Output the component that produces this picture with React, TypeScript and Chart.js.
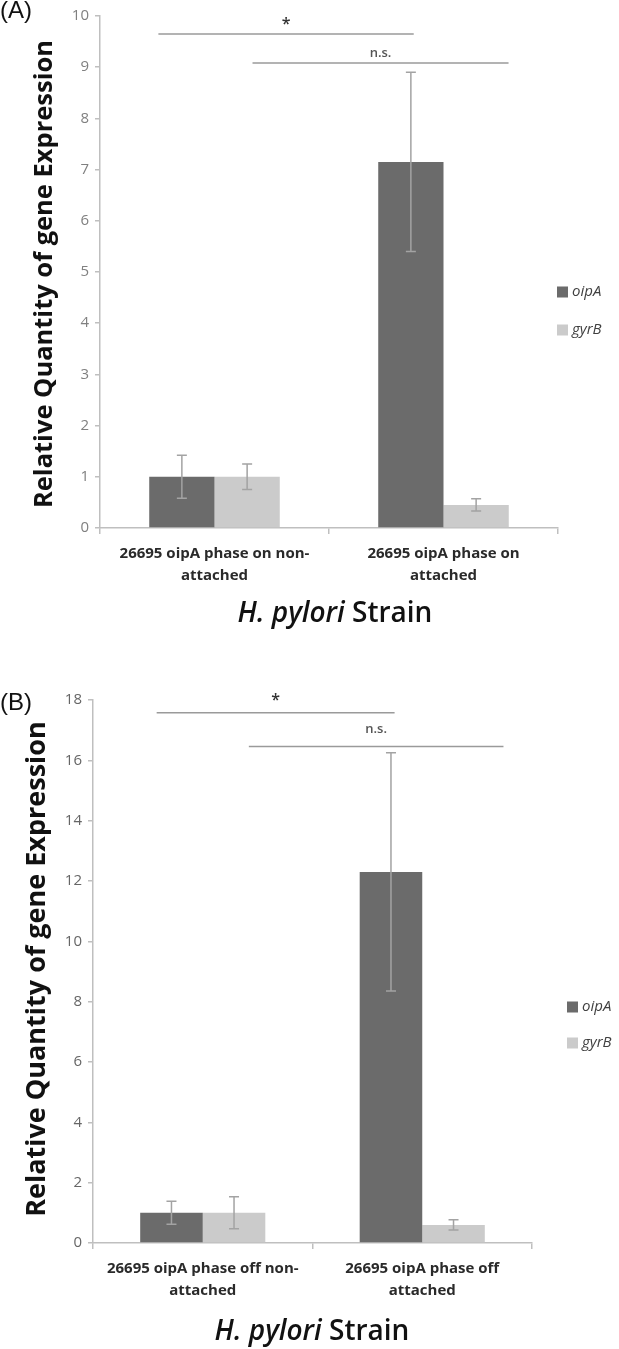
import React, { useEffect, useRef } from "react";
import { Chart, registerables } from "chart.js";

Chart.register(...registerables);

// ---------- data ----------
const seriesNames = ["oipA", "gyrB"];

const categoriesA = [
  ["26695 oipA phase on non-", "attached"],
  ["26695 oipA phase on", "attached"],
];
const oipAValuesA = [1.0, 7.15];
const gyrBValuesA = [1.0, 0.45];
const oipAErrorsA = [0.42, 1.75];
const gyrBErrorsA = [0.25, 0.12];
const yMaxA = 10;
const yStepA = 1;
const sigLabelsA = ["*", "n.s."];
const sigFromA = [-0.245, 0.166];
const sigToA = [0.87, 1.284];
const sigLineYA = [9.65, 9.08];
const sigTextYA = [9.84, 9.28];

const categoriesB = [
  ["26695 oipA phase off non-", "attached"],
  ["26695 oipA phase off", "attached"],
];
const oipAValuesB = [1.0, 12.3];
const gyrBValuesB = [1.0, 0.6];
const oipAErrorsB = [0.38, 3.95];
const gyrBErrorsB = [0.53, 0.17];
const yMaxB = 18;
const yStepB = 2;
const sigLabelsB = ["*", "n.s."];
const sigFromB = [-0.21, 0.21];
const sigToB = [0.874, 1.37];
const sigLineYB = [17.58, 16.46];
const sigTextYB = [17.98, 17.02];

const yTitle = "Relative Quantity of gene Expression";
const xTitleItalic = "H. pylori";
const xTitleRest = " Strain";

// ---------- styles ----------
const FONT = "'Open Sans', 'DejaVu Sans', sans-serif";
const barColors = ["#6b6b6b", "#cbcbcb"];

type PanelCfg = {
  top: number;
  width: number;
  height: number;
  area: { left: number; right: number; top: number; bottom: number };
  categories: string[][];
  values: number[][];
  errors: number[][];
  yMax: number;
  yStep: number;
  sigLabels: string[];
  sigFrom: number[];
  sigTo: number[];
  sigLineY: number[];
  sigTextY: number[];
  yTitleSize: number;
  yTitleX: number;
  yTitleY: number;
  xTitleX: number;
  xTitleY: number;
  legendX: number;
  legendY: number[];
  tickColor: string;
};

const panelA: PanelCfg = {
  top: 0,
  width: 619,
  height: 640,
  area: { left: 100, right: 558, top: 16, bottom: 528 },
  categories: categoriesA,
  values: [oipAValuesA, gyrBValuesA],
  errors: [oipAErrorsA, gyrBErrorsA],
  yMax: yMaxA,
  yStep: yStepA,
  sigLabels: sigLabelsA,
  sigFrom: sigFromA,
  sigTo: sigToA,
  sigLineY: sigLineYA,
  sigTextY: sigTextYA,
  yTitleSize: 25.5,
  yTitleX: 45,
  yTitleY: 274,
  xTitleX: 335,
  xTitleY: 614,
  legendX: 557,
  legendY: [292, 330],
  tickColor: "#808080",
};

const panelB: PanelCfg = {
  top: 640,
  width: 619,
  height: 709,
  area: { left: 93, right: 532, top: 60, bottom: 603 },
  categories: categoriesB,
  values: [oipAValuesB, gyrBValuesB],
  errors: [oipAErrorsB, gyrBErrorsB],
  yMax: yMaxB,
  yStep: yStepB,
  sigLabels: sigLabelsB,
  sigFrom: sigFromB,
  sigTo: sigToB,
  sigLineY: sigLineYB,
  sigTextY: sigTextYB,
  yTitleSize: 27,
  yTitleX: 37,
  yTitleY: 329,
  xTitleX: 312,
  xTitleY: 692,
  legendX: 567,
  legendY: [367, 403],
  tickColor: "#666666",
};

function makeOverlay(cfg: PanelCfg) {
  return {
    id: "overlay",
    afterDatasetsDraw(chart: any) {
      const ctx: CanvasRenderingContext2D = chart.ctx;
      const xs = chart.scales.x;
      const ys = chart.scales.y;
      ctx.save();
      // error bars
      ctx.strokeStyle = "#a3a3a3";
      ctx.lineWidth = 1.5;
      cfg.values.forEach((vals, d) => {
        const meta = chart.getDatasetMeta(d);
        vals.forEach((v, i) => {
          const bar = meta.data[i];
          const e = cfg.errors[d][i];
          const x = bar.x;
          const yt = ys.getPixelForValue(v + e);
          const yb = ys.getPixelForValue(v - e);
          ctx.beginPath();
          ctx.moveTo(x, yt);
          ctx.lineTo(x, yb);
          ctx.moveTo(x - 5, yt);
          ctx.lineTo(x + 5, yt);
          ctx.moveTo(x - 5, yb);
          ctx.lineTo(x + 5, yb);
          ctx.stroke();
        });
      });
      // significance lines
      cfg.sigLabels.forEach((lab, k) => {
        const x0 = xs.getPixelForValue(cfg.sigFrom[k]);
        const x1 = xs.getPixelForValue(cfg.sigTo[k]);
        const y = ys.getPixelForValue(cfg.sigLineY[k]);
        ctx.strokeStyle = "#9a9a9a";
        ctx.lineWidth = 1.5;
        ctx.beginPath();
        ctx.moveTo(x0, y);
        ctx.lineTo(x1, y);
        ctx.stroke();
        const ty = ys.getPixelForValue(cfg.sigTextY[k]);
        ctx.textAlign = "center";
        ctx.textBaseline = "middle";
        if (lab === "*") {
          ctx.fillStyle = "#333333";
          ctx.font = `600 16px ${FONT}`;
        } else {
          ctx.fillStyle = "#555555";
          ctx.font = `600 13px ${FONT}`;
        }
        ctx.fillText(lab, (x0 + x1) / 2, ty);
      });
      ctx.restore();
    },
    afterDraw(chart: any) {
      const ctx: CanvasRenderingContext2D = chart.ctx;
      ctx.save();
      // y title
      ctx.translate(cfg.yTitleX, cfg.yTitleY);
      ctx.rotate(-Math.PI / 2);
      ctx.fillStyle = "#111111";
      ctx.font = `bold ${cfg.yTitleSize}px ${FONT}`;
      ctx.textAlign = "center";
      ctx.textBaseline = "middle";
      ctx.fillText(yTitle, 0, 0);
      ctx.setTransform(1, 0, 0, 1, 0, 0);
      // x title (mixed style)
      const fi = `italic 600 28px ${FONT}`;
      const fr = `600 28px ${FONT}`;
      ctx.font = fi;
      const w1 = ctx.measureText(xTitleItalic).width;
      ctx.font = fr;
      const w2 = ctx.measureText(xTitleRest).width;
      let x = cfg.xTitleX - (w1 + w2) / 2;
      ctx.textAlign = "left";
      ctx.textBaseline = "middle";
      ctx.fillStyle = "#111111";
      ctx.font = fi;
      ctx.fillText(xTitleItalic, x, cfg.xTitleY);
      ctx.font = fr;
      ctx.fillText(xTitleRest, x + w1, cfg.xTitleY);
      // legend
      seriesNames.forEach((name, k) => {
        const ly = cfg.legendY[k];
        ctx.fillStyle = barColors[k];
        ctx.fillRect(cfg.legendX, ly - 5.5, 11, 11);
        ctx.fillStyle = "#404040";
        ctx.font = `italic 15px ${FONT}`;
        ctx.textAlign = "left";
        ctx.textBaseline = "middle";
        ctx.fillText(name, cfg.legendX + 15, ly);
      });
      ctx.restore();
    },
  };
}

function Panel({ cfg }: { cfg: PanelCfg }) {
  const ref = useRef<HTMLCanvasElement | null>(null);
  useEffect(() => {
    if (!ref.current) return;
    const a = cfg.area;
    const chart = new Chart(ref.current, {
      type: "bar",
      data: {
        labels: cfg.categories as any,
        datasets: seriesNames.map((name, k) => ({
          label: name,
          data: cfg.values[k],
          backgroundColor: barColors[k],
          borderWidth: 0,
          categoryPercentage: 0.57,
          barPercentage: 1.0,
        })),
      },
      options: {
        responsive: false,
        animation: false,
        devicePixelRatio: 1,
        layout: {
          padding: { left: 0, right: cfg.width - a.right, top: a.top, bottom: 0 },
        },
        plugins: {
          legend: { display: false },
          tooltip: { enabled: false },
          title: { display: false },
        },
        scales: {
          x: {
            grid: {
              drawOnChartArea: false,
              color: "#bfbfbf",
              tickLength: 6,
              lineWidth: 1.5,
              offset: true,
            },
            border: { color: "#bfbfbf", width: 1.5 },
            ticks: {
              font: { family: FONT, size: 15, weight: "bold" as any, lineHeight: 1.5 },
              color: "#2a2a2a",
              padding: 8,
              maxRotation: 0,
              autoSkip: false,
            },
            afterFit(s: any) {
              s.height = cfg.height - a.bottom;
            },
          },
          y: {
            min: 0,
            max: cfg.yMax,
            ticks: {
              stepSize: cfg.yStep,
              font: { family: FONT, size: 15 },
              color: cfg.tickColor,
              padding: 6,
            },
            grid: {
              drawOnChartArea: false,
              color: "#bfbfbf",
              tickLength: 5,
              lineWidth: 1.5,
            },
            border: { color: "#bfbfbf", width: 1.5 },
            afterFit(s: any) {
              s.width = a.left;
            },
          },
        },
      },
      plugins: [makeOverlay(cfg)],
    });
    return () => chart.destroy();
  }, [cfg]);
  return (
    <canvas
      ref={ref}
      width={cfg.width}
      height={cfg.height}
      style={{
        position: "absolute",
        left: 0,
        top: cfg.top,
        width: cfg.width,
        height: cfg.height,
        display: "block",
      }}
    />
  );
}

export default function App() {
  return (
    <div
      style={{
        position: "absolute",
        left: 0,
        top: 0,
        width: 619,
        height: 1349,
        background: "#ffffff",
        overflow: "hidden",
      }}
    >
      <Panel cfg={panelA} />
      <Panel cfg={panelB} />
      <div
        style={{
          position: "absolute",
          left: 0,
          top: -5,
          fontFamily: "'Liberation Sans', Arial, sans-serif",
          fontSize: 24,
          color: "#111",
          lineHeight: "30px",
        }}
      >
        (A)
      </div>
      <div
        style={{
          position: "absolute",
          left: 0,
          top: 687,
          fontFamily: "'Liberation Sans', Arial, sans-serif",
          fontSize: 24,
          color: "#111",
          lineHeight: "30px",
        }}
      >
        (B)
      </div>
    </div>
  );
}
